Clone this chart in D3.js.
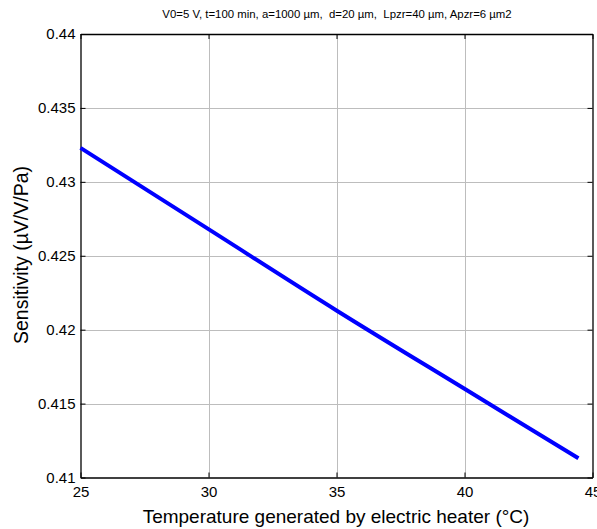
<!DOCTYPE html>
<html><head><meta charset="utf-8">
<script src="https://cdn.jsdelivr.net/npm/d3@7"></script>
<style>body{margin:0;background:#fff}svg{display:block;font-family:"Liberation Sans",Arial,sans-serif}</style>
</head><body>
<script>
const title = "V0=5 V, t=100 min, a=1000 µm,  d=20 µm,  Lpzr=40 µm, Apzr=6 µm2";
const xLabel = "Temperature generated by electric heater (°C)";
const yLabel = "Sensitivity (µV/V/Pa)";
const temperature = [25, 30, 35, 40, 44.45];
const sensitivity = [0.4323, 0.4268, 0.4213, 0.4160, 0.4113];
const xTicks = [25, 30, 35, 40, 45];
const yTicks = [0.41, 0.415, 0.42, 0.425, 0.43, 0.435, 0.44];

const W = 597, H = 529;
const m = {left: 80.5, right: 592.5, top: 34, bottom: 477.5};
const svg = d3.select("body").append("svg").attr("width", W).attr("height", H);
const x = d3.scaleLinear().domain([25, 45]).range([m.left, m.right]);
const y = d3.scaleLinear().domain([0.41, 0.44]).range([m.bottom, m.top]);

// grid
svg.append("g").selectAll("line").data(xTicks.slice(1, -1)).join("line")
  .attr("x1", d => Math.round(x(d)) + 0.5).attr("x2", d => Math.round(x(d)) + 0.5)
  .attr("y1", m.top).attr("y2", m.bottom).attr("stroke", "#bdbdbd").attr("stroke-width", 1);
svg.append("g").selectAll("line").data(yTicks.slice(1, -1)).join("line")
  .attr("y1", d => Math.round(y(d)) + 0.5).attr("y2", d => Math.round(y(d)) + 0.5)
  .attr("x1", m.left).attr("x2", m.right).attr("stroke", "#bdbdbd").attr("stroke-width", 1);

// axes
const fmtY = d => d3.format("")(+d.toFixed(3));
const bottomAxis = d3.axisBottom(x).tickValues(xTicks).tickSize(-5).tickPadding(9).tickSizeOuter(0);
const topAxis = d3.axisTop(x).tickValues(xTicks).tickSize(-5).tickFormat("").tickSizeOuter(0);
const leftAxis = d3.axisLeft(y).tickValues(yTicks).tickSize(-5).tickPadding(5).tickFormat(fmtY).tickSizeOuter(0);
const rightAxis = d3.axisRight(y).tickValues(yTicks).tickSize(-5).tickFormat("").tickSizeOuter(0);

function styleAxis(g){
  g.select(".domain").attr("stroke", "#000").attr("stroke-width", 1.3);
  g.selectAll(".tick line").attr("stroke", "#000");
  g.selectAll(".tick text").attr("fill", "#000").attr("font-size", 15).attr("font-family", '"Liberation Sans",Arial,sans-serif');
}
svg.append("g").attr("transform", `translate(0,${m.bottom})`).call(bottomAxis).call(styleAxis);
svg.append("g").attr("transform", `translate(0,${m.top})`).call(topAxis).call(styleAxis);
svg.append("g").attr("transform", `translate(${m.left},0)`).call(leftAxis).call(styleAxis);
svg.append("g").attr("transform", `translate(${m.right},0)`).call(rightAxis).call(styleAxis);

// line
const line = d3.line().x((d, i) => x(temperature[i])).y(d => y(d)).curve(d3.curveMonotoneX);
svg.append("path").datum(sensitivity).attr("d", line)
  .attr("fill", "none").attr("stroke", "#0000ff").attr("stroke-width", 4);

// labels
svg.append("text").attr("x", 337).attr("y", 18).attr("text-anchor", "middle")
  .attr("xml:space", "preserve").style("white-space", "pre")
  .attr("font-size", 11.4).attr("fill", "#000").text(title);
svg.append("text").attr("x", 336).attr("y", 523).attr("text-anchor", "middle")
  .attr("font-size", 19).attr("fill", "#000").text(xLabel);
svg.append("text").attr("transform", "translate(28,255) rotate(-90)").attr("text-anchor", "middle")
  .attr("font-size", 19.5).attr("fill", "#000").text(yLabel);
</script>
</body></html>
